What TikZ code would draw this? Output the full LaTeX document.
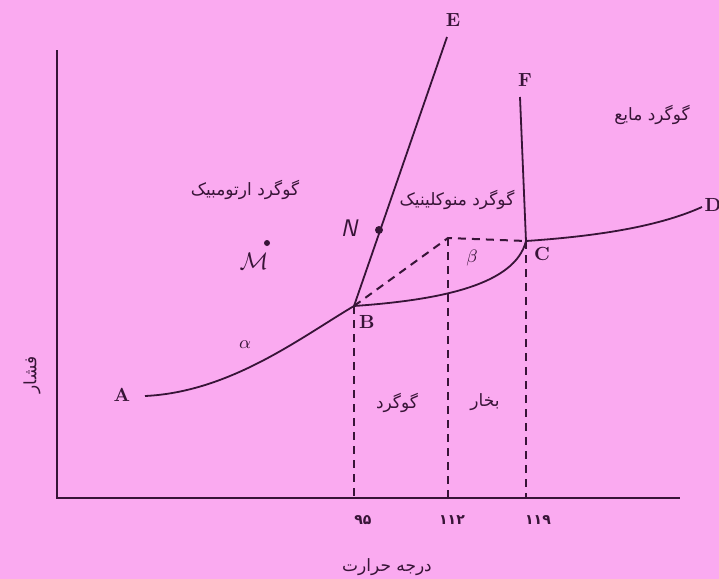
\documentclass[tikz,border=0pt]{standalone}
\usepackage{fontspec}
\usepackage{amsmath}
\usetikzlibrary{positioning}
\newfontfamily\arabicfont[Script=Arabic]{DejaVu Sans}
\TeXXeTstate=1

\begin{document}
\begin{tikzpicture}[
    x=0.5pt, y=-0.5pt,
    every node/.style={font=\normalsize},
    phase/.style={line width=0.9pt, draw=ink},
    guide/.style={line width=1pt, draw=ink, dash pattern=on 4pt off 3pt},
    ptlabel/.style={font=\fontsize{9.5}{11}\selectfont\bfseries, text=ink, inner sep=1pt},
    fa/.style={font=\fontsize{8.5}{10}\selectfont\arabicfont, text=ink, inner sep=1pt},
    num/.style={font=\fontsize{7}{9}\selectfont\arabicfont\bfseries, text=ink, inner sep=1pt},
  ]
  \definecolor{paper}{RGB}{250,170,240}
  \definecolor{ink}{RGB}{55,20,55}

  \fill[paper] (0,0) rectangle (719,579);
  \useasboundingbox (0,0) rectangle (719,579);

  % axes
  \coordinate (O) at (57,498);
  \coordinate (ytop) at (57,50);
  \coordinate (xend) at (680,498);
  \draw[line width=1pt, ink] (ytop) -- (O) -- (xend);

  % phase points
  \coordinate (A) at (145,396);
  \coordinate (B) at (354,306);
  \coordinate (T) at (448,238);
  \coordinate (C) at (526,241);
  \coordinate (D) at (702,207);
  \coordinate (E) at (447,37);
  \coordinate (F) at (520,97);

  \draw[phase] (A) .. controls (230,392) and (300,338) .. (B);
  \draw[phase] (B) .. controls (440,300) and (515,285) .. (C);
  \draw[phase] (C) .. controls (600,236) and (660,226) .. (D);
  \draw[phase] (B) -- (E);
  \draw[phase] (C) -- (F);

  \draw[guide] (B) -- (T) -- (C);
  \foreach \p/\lx/\v in {B/363/۹۵, T/452/۱۱۲, C/538/۱۱۹}{
    \coordinate (\p foot) at (\p |- O);
    \draw[guide] (\p) -- (\p foot);
    \node[num] (num\p) at (\lx,520) {\v};
  }

  \node[ptlabel] (labA) at (122,395) {A};
  \node[ptlabel] (labB) at (367,322) {B};
  \node[ptlabel] (labC) at (542,254) {C};
  \node[ptlabel] (labD) at (713,205) {D};
  \node[ptlabel] (labE) at (453,20) {E};
  \node[ptlabel] (labF) at (525,80) {F};

  % states on the diagram
  \fill[ink] (379,230) circle (4);
  \node[font=\fontsize{12}{12}\selectfont\sffamily\itshape, text=ink] (labN) at (349,228) {N};
  \fill[ink] (267,243) circle (3);
  \node[font=\fontsize{12}{12}\selectfont, text=ink] (labM) at (254,261) {$\mathcal{M}$};
  \node[text=ink, font=\small] (alpha) at (245,345) {$\alpha$};
  \node[text=ink, font=\small] (beta) at (472,258) {$\beta$};

  % phase names
  \node[fa] (orth) at (245,190) {\beginR گوگرد ارتومبیک\endR};
  \node[fa] (mono) at (457,200) {\beginR گوگرد منوکلینیک\endR};
  \node[fa] (liq) at (652,115) {\beginR گوگرد مایع\endR};
  \node[fa] (sulf) at (397,403) {\beginR گوگرد\endR};
  \node[fa] (vap) at (485,402) {\beginR بخار\endR};

  % axis titles
  \node[fa, rotate=90] (pres) at (32,375) {\beginR فشار\endR};
  \node[fa] (temp) at (387,567) {\beginR درجه حرارت\endR};
\end{tikzpicture}
\end{document}
